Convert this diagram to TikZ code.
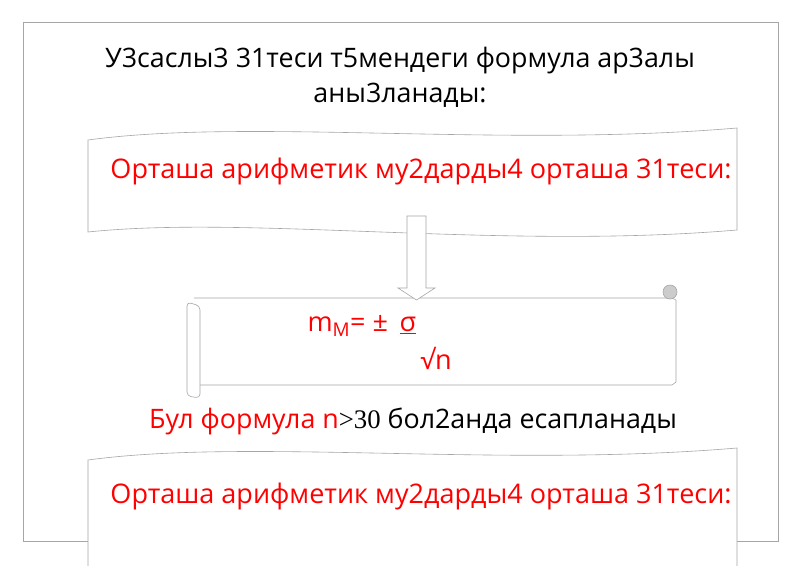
\documentclass[tikz,border=0pt]{standalone}
\usepackage{fontspec}
\setmainfont{Open Sans}
\begin{document}
\begin{tikzpicture}[x=1pt,y=-1pt,
  redtext/.style={text=red,font=\fontsize{27}{31}\selectfont},
  blacktext/.style={text=black,font=\fontsize{26.8}{31}\selectfont},
  thinline/.style={draw=gray!70,line width=0.6pt}]
  \useasboundingbox (0,0) rectangle (800,565);
  % outer frame
  \draw[thinline,fill=white] (23,22) rectangle (778,541);
  \node (title) [blacktext,align=center] at (400,77) {У3саслы3 31теси т5мендеги формула ар3алы\\[4pt] аны3ланады:};
  % wavy boxes
  \draw[thinline,fill=white] (88,140) .. controls (250,118) and (500,148) .. (737,128) -- (737,230)
    .. controls (500,250) and (250,215) .. (88,232) -- cycle;
  \node (upper) [redtext] at (421,171) {Орташа арифметик му2дарды4 орташа 31теси:};
  \draw[thinline,fill=white] (88,460) .. controls (250,438) and (500,468) .. (737,448) -- (737,570) -- (88,570) -- cycle;
  \node (lower) [redtext] at (421,496) {Орташа арифметик му2дарды4 орташа 31теси:};
  % scroll
  \draw[thinline,fill=white] (194,298) -- (672,298) -- (676,300) -- (676,382) -- (672,385) -- (200,385);
  \draw[thinline,fill=white,rounded corners=4pt] (187,302) -- (187,396) -- (200,398) -- (200,306) -- cycle;
  \draw[thinline,fill=gray!40] (670,292) circle (7);
  % arrow
  \draw[thinline,fill=white] (407,216) -- (426,216) -- (426,288) -- (435,288) -- (416.5,300)
    -- (398,288) -- (407,288) -- cycle;
  \node (formula) [redtext,anchor=west] at (304,326) {m\textsubscript{М}= ± \,\underline{σ}};
  \node (root) [redtext] at (436,358) {√n};
  \node (note) [blacktext] at (413,421) {\textcolor{red}{Бул формула n}{\fontspec{Liberation Serif}>30} бол2анда есапланады};
\end{tikzpicture}
\end{document}
